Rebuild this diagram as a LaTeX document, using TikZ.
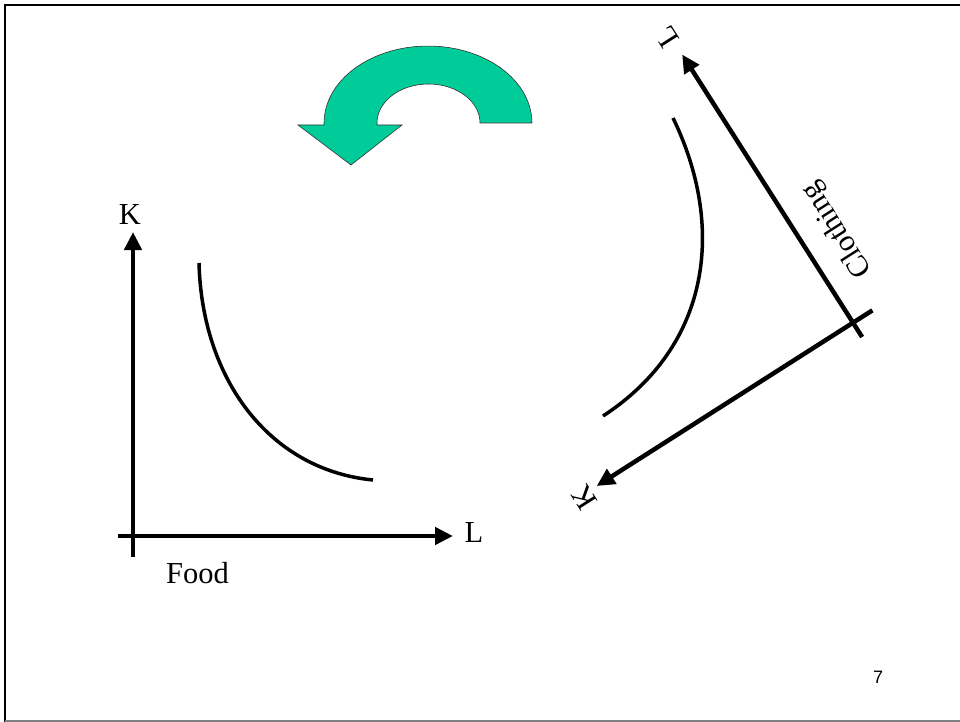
\documentclass[tikz,border=0pt]{standalone}
\usepackage{fontspec}
\setmainfont{Liberation Serif}
\newfontfamily\slidesans{Liberation Sans}
\usetikzlibrary{arrows.meta,positioning}
\definecolor{turngreen}{RGB}{0,204,153}
\tikzset{>={Triangle[length=18pt,width=17pt]}}

\begin{document}
\begin{tikzpicture}[x=1pt, y=-1pt,
    every node/.style={font=\fontsize{30.5}{34}\selectfont, inner sep=0pt},
    axisline/.style={line width=4.5pt, ->},
    isoquant/.style={line width=3.5pt}]
  \useasboundingbox (0,0) rectangle (960,722);
  % slide frame
  \draw[line width=2.4pt] (4,5) -- (960,5);
  \draw[line width=2.4pt] (5,4) -- (5,722);
  \draw[black!50, line width=1.5pt] (5,721) -- (960,721);
  % turning arrow
  \path[fill=turngreen, draw=black!80, line width=0.6pt]
    (532,123) -- (480,123)
    -- plot[domain=0:180, samples=40] ({428.5+51.5*cos(\x)},{123-39*sin(\x)})
    -- (377,125) -- (402,125) -- (351,165) -- (298,125) -- (324,125)
    -- plot[domain=180:0, samples=40] ({428+104*cos(\x)},{123-77*sin(\x)})
    -- cycle;
  % food
  \begin{scope}[shift={(133,536)}]
    \coordinate (fKa) at (0,21);
    \coordinate (fK) at (0,-304);
    \coordinate (fLa) at (-15,0);
    \coordinate (fL) at (320,0);
    \draw[axisline] (fKa) -- (fK);
    \draw[axisline] (fLa) -- (fL);
    \node (fKlab) at (-3,-321) {K};
    \node (fLlab) at (341,-3) {L};
    \node[anchor=west] (fname) at (33,37) {Food};
    \draw[isoquant] (66,-273) .. controls (69,-156) and (137,-66) .. (240,-56);
  \end{scope}
  % clothing
  \begin{scope}[shift={(853,322.7)}, rotate=122.5, every node/.append style={transform shape}]
    \coordinate (cKa) at (0,23);
    \coordinate (cK) at (0,-304);
    \coordinate (cLa) at (-17,0);
    \coordinate (cL) at (318,0);
    \draw[axisline] (cKa) -- (cK);
    \draw[axisline] (cLa) -- (cL);
    \node (cKlab) at (-3,-321) {K};
    \node (cLlab) at (341,-3) {L};
    \node[anchor=west] (cname) at (33,37) {Clothing};
  \end{scope}
  \draw[isoquant] (673,118) .. controls (725,225) and (712,345) .. (603,416);
  \node[font=\slidesans\fontsize{18}{20}\selectfont] (pagenum) at (878,677) {7};
\end{tikzpicture}
\end{document}
